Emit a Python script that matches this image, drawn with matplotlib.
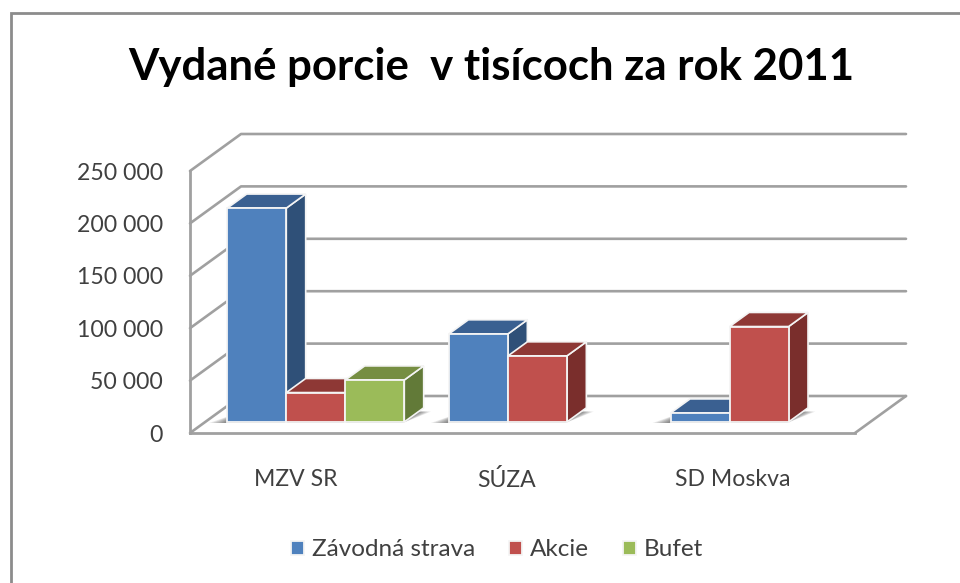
import matplotlib
matplotlib.use("Agg")
import matplotlib.pyplot as plt
from matplotlib.patches import Polygon, Rectangle
from matplotlib.transforms import ScaledTranslation

title = "Vydané porcie  v tisícoch za rok 2011"
categories = ["MZV SR", "SÚZA", "SD Moskva"]
series_names = ["Závodná strava", "Akcie", "Bufet"]
zavodna = [204000, 84000, 8500]
akcie = [28000, 63000, 91000]
bufet = [40000, None, None]
y_ticks = [0, 50000, 100000, 150000, 200000, 250000]
y_labels = ["0", "50 000", "100 000", "150 000", "200 000", "250 000"]

W, H = 960, 583
L, R, T, B = 190, 855, 171, 433
plt.rcParams["font.family"] = ["Lato", "DejaVu Sans"]
fig = plt.figure(figsize=(W / 100, H / 100), dpi=100, facecolor="white")
fig.add_artist(Rectangle((11 / W, -0.02), 1.1, 1 - 13 / H + 0.02, transform=fig.transFigure,
                         fc="white", ec="#8c8c8c", lw=2, zorder=-5))
ax = fig.add_axes([L / W, 1 - B / H, (R - L) / W, (B - T) / H])
ax.set_xlim(0, 3)
ax.set_ylim(0, 250000)
ax.patch.set_alpha(0)

px_x = 3 / (R - L)
px_y = 250000 / (B - T)
DX = 51 * px_x
DY = 37 * px_y
WALL = "#a0a0a0"


def proj(x, v, d):
    return (x + d * DX, v + d * DY)


def line3(pts, z=1, lw=1.9, color=WALL):
    xs, ys = zip(*[proj(*p) for p in pts])
    ax.plot(xs, ys, color=color, lw=lw, zorder=z, clip_on=False, solid_capstyle="round")


for v in y_ticks:
    line3([(0, v, 0), (0, v, 1), (3, v, 1)])
line3([(3, 0, 0), (3, 0, 1)])

bar_w = 59 * px_x
gap = 22 * px_x
d0, d1 = 0.30, 0.68
styles = [("#4F81BD", "#3A6091", "#2F5078"),
          ("#C0504D", "#8E3835", "#7A2E2C"),
          ("#9BBB59", "#768E42", "#627A38")]
all_series = [zavodna, akcie, bufet]
order = 10
handles = []

# soft floor shadows
for c in range(len(categories)):
    vals = [s[c] for s in all_series if s[c] is not None]
    x0 = c + gap
    x1 = x0 + bar_w * len(vals)
    for k in range(7):
        g = (7 - k) * 2.4 * px_x
        pts = [proj(x0 + d0 * 0 - g, 0, d0 - 0.03), proj(x1, 0, d0 - 0.03),
               proj(x1 + g * 0.75, 0, d1 - 0.10), proj(x0, 0, d1 - 0.10)]
        ax.add_patch(Polygon(pts, fc="#000000", ec="none", alpha=0.08, zorder=3, clip_on=False))

for c in range(len(categories)):
    for i, (vals, st) in enumerate(zip(all_series, styles)):
        v = vals[c]
        if v is None:
            continue
        x = c + gap + i * bar_w
        top = [proj(x, v, d0), proj(x + bar_w, v, d0), proj(x + bar_w, v, d1), proj(x, v, d1)]
        side = [proj(x + bar_w, 0, d0), proj(x + bar_w, v, d0), proj(x + bar_w, v, d1), proj(x + bar_w, 0, d1)]
        ax.add_patch(Polygon(side, fc=st[2], ec="#f4f4f4", lw=1.2, zorder=order, clip_on=False))
        ax.add_patch(Polygon(top, fc=st[1], ec="#f4f4f4", lw=1.2, zorder=order, clip_on=False))
        b = ax.bar(x + d0 * DX, v, width=bar_w, bottom=d0 * DY, align="edge", color=st[0],
                   edgecolor="#f4f4f4", linewidth=1.3, zorder=order + 1, clip_on=False)
        if c == 0:
            handles.append(b[0])
        order += 2

for s in ("top", "right"):
    ax.spines[s].set_visible(False)
for s in ("left", "bottom"):
    ax.spines[s].set_color(WALL)
    ax.spines[s].set_linewidth(2)
    ax.spines[s].set_zorder(2)

TICK = "#404040"
ax.set_yticks(y_ticks, y_labels)
ax.tick_params(axis="y", length=0, pad=19.5, labelsize=16.6, labelcolor=TICK)
ax.set_xticks([c + 0.5 for c in range(len(categories))], categories)
ax.tick_params(axis="x", length=0, pad=26, labelsize=16.6, labelcolor=TICK)
for lab, off in zip(ax.get_xticklabels(), (-5, -16, -11)):
    lab.set_transform(lab.get_transform() + ScaledTranslation(off / 100, 0, fig.dpi_scale_trans))

fig.text(491.5 / W, 1 - 67 / H, title, ha="center", va="center", fontsize=31.5, fontweight="bold", color="black")
fig.legend(handles, series_names, loc="center", bbox_to_anchor=(497 / W, 1 - 550 / H), ncols=3,
           frameon=False, fontsize=17.5, labelcolor=TICK, handlelength=0.53, handleheight=0.55,
           handletextpad=0.32, columnspacing=1.4, borderpad=0)
fig.savefig("out.png", dpi=100)
